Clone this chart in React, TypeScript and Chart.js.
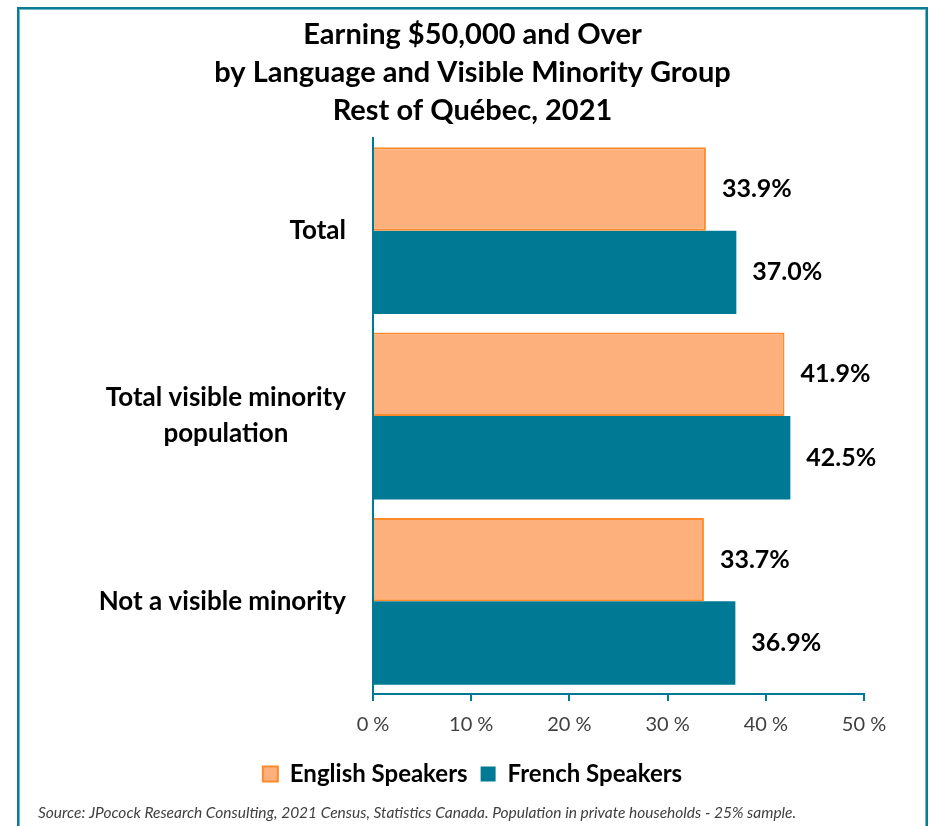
import React, { useEffect, useRef } from "react";
import { Chart, registerables } from "chart.js";

Chart.register(...registerables);

const categories: string[][] = [
  ["Total"],
  ["Total visible minority", "population"],
  ["Not a visible minority"],
];
const englishValues = [33.9, 41.9, 33.7];
const frenchValues = [37.0, 42.5, 36.9];
const seriesNames = ["English Speakers", "French Speakers"];
const titleLines = [
  "Earning $50,000 and Over",
  "by Language and Visible Minority Group",
  "Rest of Québec, 2021",
];
const sourceText =
  "Source: JPocock Research Consulting, 2021 Census, Statistics Canada. Population in private households - 25% sample.";
const xTicks = { min: 0, max: 50, step: 10 };

const FONT = "Lato, 'Noto Sans', sans-serif";
const TEAL = "#007A94";
const PEACH = "#FDB07C";
const ORANGE = "#FF8A2B";

export default function App() {
  const ref = useRef<HTMLCanvasElement | null>(null);

  useEffect(() => {
    if (!ref.current) return;

    const labelsPlugin = {
      id: "customLabels",
      afterDraw(chart: any) {
        const ctx = chart.ctx;
        const yScale = chart.scales.y;
        const area = chart.chartArea;
        ctx.save();
        // category labels
        ctx.font = `bold 26px ${FONT}`;
        ctx.fillStyle = "#000";
        ctx.textBaseline = "middle";
        ctx.textAlign = "center";
        const lh = 36;
        categories.forEach((lines, i) => {
          const cy = yScale.getPixelForTick(i);
          const w = Math.max(...lines.map((l) => ctx.measureText(l).width));
          const right = area.left - 27;
          const cx = right - w / 2;
          lines.forEach((l, j) => {
            const y = cy + (j - (lines.length - 1) / 2) * lh;
            ctx.fillText(l, cx, y);
          });
        });
        // value labels
        ctx.textAlign = "left";
        ctx.font = `bold 25px ${FONT}`;
        chart.data.datasets.forEach((ds: any, di: number) => {
          const meta = chart.getDatasetMeta(di);
          meta.data.forEach((el: any, i: number) => {
            const v = ds.data[i] as number;
            ctx.fillText(v.toFixed(1) + "%", el.x + 16, el.y);
          });
        });
        // source
        ctx.font = `italic 15.5px ${FONT}`;
        ctx.fillStyle = "#404040";
        ctx.fillText(sourceText, 38, 813);
        ctx.restore();
      },
    };

    const chart = new Chart(ref.current, {
      type: "bar",
      data: {
        labels: categories.map((c) => c.join(" ")),
        datasets: [
          {
            label: seriesNames[0],
            data: englishValues,
            backgroundColor: PEACH,
            borderColor: ORANGE,
            borderWidth: 2,
            barPercentage: 1,
            categoryPercentage: 0.9,
          },
          {
            label: seriesNames[1],
            data: frenchValues,
            backgroundColor: TEAL,
            borderColor: TEAL,
            borderWidth: 0,
            barPercentage: 1,
            categoryPercentage: 0.9,
          },
        ],
      },
      options: {
        indexAxis: "y",
        responsive: false,
        animation: false,
        layout: { padding: { left: 20, right: 7, top: 10, bottom: 30 } },
        scales: {
          x: {
            type: "linear",
            min: xTicks.min,
            max: xTicks.max,
            ticks: {
              stepSize: xTicks.step,
              padding: 12,
              color: "#404040",
              font: { family: FONT, size: 20 },
              callback: (v: any) => `${v} %`,
            },
            grid: {
              drawOnChartArea: false,
              drawTicks: true,
              tickLength: 7,
              color: TEAL,
              lineWidth: 2,
            },
            border: { display: true, color: TEAL, width: 2 },
          },
          y: {
            type: "category",
            position: "left",
            ticks: { display: false },
            grid: { display: false },
            border: { display: true, color: TEAL, width: 2 },
            afterFit: (s: any) => {
              s.width = 353;
            },
          },
          y2: {
            type: "linear",
            position: "right",
            display: true,
            ticks: { display: false },
            grid: { display: false },
            border: { display: false },
            afterFit: (s: any) => {
              s.width = 61;
            },
          },
        },
        plugins: {
          title: {
            display: true,
            text: titleLines,
            color: "#000",
            font: { family: FONT, size: 29, weight: "bold", lineHeight: 38 / 29 },
            padding: { top: 6, bottom: 8 },
          },
          legend: {
            display: true,
            position: "bottom",
            labels: {
              boxWidth: 15,
              boxHeight: 15,
              padding: 13,
              color: "#000",
              font: { family: FONT, size: 24, weight: "bold" },
            },
          },
          tooltip: { enabled: false },
        },
      },
      plugins: [labelsPlugin],
    } as any);

    return () => chart.destroy();
  }, []);

  return (
    <div
      style={{
        position: "absolute",
        left: 0,
        top: 0,
        width: 932,
        height: 826,
        background: "#fff",
        overflow: "hidden",
      }}
    >
      <div
        style={{
          position: "absolute",
          left: 17,
          top: 7,
          width: 911,
          height: 900,
          boxSizing: "border-box",
          border: "2px solid #0A7B93",
          boxShadow: "inset 0 0 0 1px #6DB6C6",
        }}
      />
      <canvas
        ref={ref}
        width={932}
        height={826}
        style={{ position: "absolute", left: 0, top: 0, display: "block" }}
      />
    </div>
  );
}
